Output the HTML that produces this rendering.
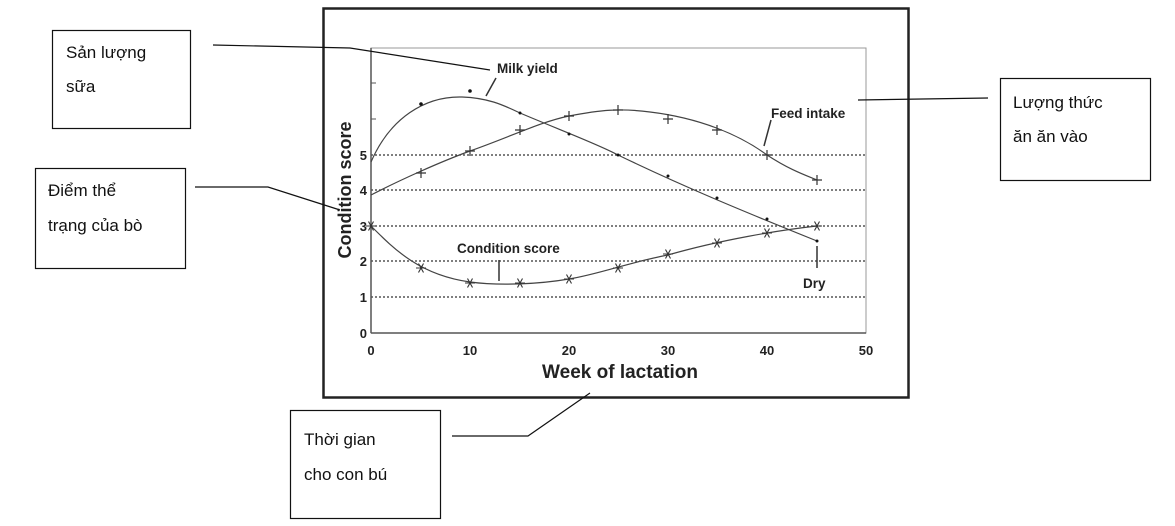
<!DOCTYPE html>
<html><head><meta charset="utf-8"><style>
body{margin:0;background:#fff;}
svg{display:block}
.t{font-family:"Liberation Sans",sans-serif;font-weight:bold;fill:#222}
.v{font-family:"Liberation Sans","Noto Sans CJK SC",sans-serif;font-size:17px;fill:#111}
</style></head><body>
<svg width="1175" height="526" viewBox="0 0 1175 526" xmlns="http://www.w3.org/2000/svg">
<defs><g id="st" stroke="#333" stroke-width="1.1"><path d="M-5,0h10M-2.5,-4.5l5,9M2.5,-4.5l-5,9"/></g></defs>
<rect x="323.5" y="8.5" width="585" height="389" fill="#fff" stroke="#222" stroke-width="2.5"/>
<rect x="371" y="48" width="495" height="285" fill="none" stroke="#999" stroke-width="1"/>
<g stroke="#333" stroke-width="1.3" stroke-dasharray="2,2">
<line x1="371" x2="866" y1="297" y2="297"/><line x1="371" x2="866" y1="261" y2="261"/>
<line x1="371" x2="866" y1="226" y2="226"/><line x1="371" x2="866" y1="190" y2="190"/>
<line x1="371" x2="866" y1="155" y2="155"/></g>
<line x1="371" y1="333" x2="866" y2="333" stroke="#555" stroke-width="1.5"/>
<line x1="371" y1="48" x2="371" y2="333" stroke="#555" stroke-width="1.5"/>
<line x1="371" y1="83" x2="376" y2="83" stroke="#555"/><line x1="371" y1="119" x2="376" y2="119" stroke="#555"/>
<g class="t" font-size="13" text-anchor="end">
<text x="367" y="338">0</text><text x="367" y="302">1</text><text x="367" y="266">2</text>
<text x="367" y="231">3</text><text x="367" y="195">4</text><text x="367" y="160">5</text></g>
<g class="t" font-size="13" text-anchor="middle">
<text x="371" y="355">0</text><text x="470" y="355">10</text><text x="569" y="355">20</text>
<text x="668" y="355">30</text><text x="767" y="355">40</text><text x="866" y="355">50</text>
<text x="620" y="378" font-size="19">Week of lactation</text></g>
<text class="t" font-size="18" transform="translate(351,190) rotate(-90)" text-anchor="middle">Condition score</text>
<!-- milk -->
<path d="M371,162 C390,118 425,96 462,97 C490,98 505,106 520,113 C560,130 600,145 618,155 C680,185 740,210 817,241" fill="none" stroke="#444" stroke-width="1.2"/>
<g fill="#111"><circle cx="421" cy="104" r="1.8"/><circle cx="470" cy="91" r="1.8"/><circle cx="520" cy="113" r="1.5"/><circle cx="569" cy="134" r="1.5"/><circle cx="618" cy="155" r="1.5"/><circle cx="668" cy="176" r="1.5"/><circle cx="717" cy="198" r="1.5"/><circle cx="767" cy="219" r="1.5"/><circle cx="817" cy="241" r="1.5"/></g>
<!-- feed -->
<path d="M371,195 C400,180 440,162 470,151 C510,137 540,122 569,116 C600,110 620,108 650,112 C700,118 740,135 767,155 C790,170 805,175 817,180" fill="none" stroke="#444" stroke-width="1.2"/>
<g stroke="#333" stroke-width="1.2">
<path d="M416,173h10M421,168v10M465,151h10M470,146v10M515,130h10M520,125v10M564,116h10M569,111v10M613,110h10M618,105v10M663,119h10M668,114v10M712,130h10M717,125v10M762,155h10M767,150v10M812,180h10M817,175v10"/></g>
<!-- condition -->
<path d="M371,226 C395,250 420,275 470,282 C500,286 540,284 569,279 C600,274 630,262 668,255 C720,240 780,230 817,226" fill="none" stroke="#444" stroke-width="1.2"/>
<use href="#st" x="421" y="268"/><use href="#st" x="470" y="283"/><use href="#st" x="520" y="283"/><use href="#st" x="569" y="279"/><use href="#st" x="618" y="268"/><use href="#st" x="668" y="254"/><use href="#st" x="717" y="243"/><use href="#st" x="767" y="233"/><use href="#st" x="817" y="226"/>
<use href="#st" x="371" y="226"/>
<g class="t" font-size="13.5">
<text x="497" y="73">Milk yield</text><text x="771" y="118">Feed intake</text>
<text x="457" y="253">Condition score</text><text x="803" y="288">Dry</text></g>
<g stroke="#333" stroke-width="1.5" fill="none">
<path d="M496,78 L486,96"/><path d="M499,260 V281"/><path d="M817,268 V246"/><path d="M771,120 L764,146"/></g>
<!-- callouts -->
<g stroke="#111" stroke-width="1.2" fill="none">
<rect x="52.5" y="30.5" width="138" height="98"/><rect x="35.5" y="168.5" width="150" height="100"/>
<rect x="1000.5" y="78.5" width="150" height="102"/><rect x="290.5" y="410.5" width="150" height="108"/>
<path d="M213,45 L350,48 L490,70"/><path d="M195,187 L268,187 L340,210"/>
<path d="M858,100 L988,98"/><path d="M452,436 L528,436 L590,393"/></g>
<text class="v" x="66" y="58">Sản lượng</text><text class="v" x="66" y="92">sữa</text>
<text class="v" x="48" y="196">Điểm thể</text><text class="v" x="48" y="231">trạng của bò</text>
<text class="v" x="1013" y="108">Lượng thức</text><text class="v" x="1013" y="142">ăn ăn vào</text>
<text class="v" x="304" y="445">Thời gian</text><text class="v" x="304" y="480">cho con bú</text>
</svg>
</body></html>
